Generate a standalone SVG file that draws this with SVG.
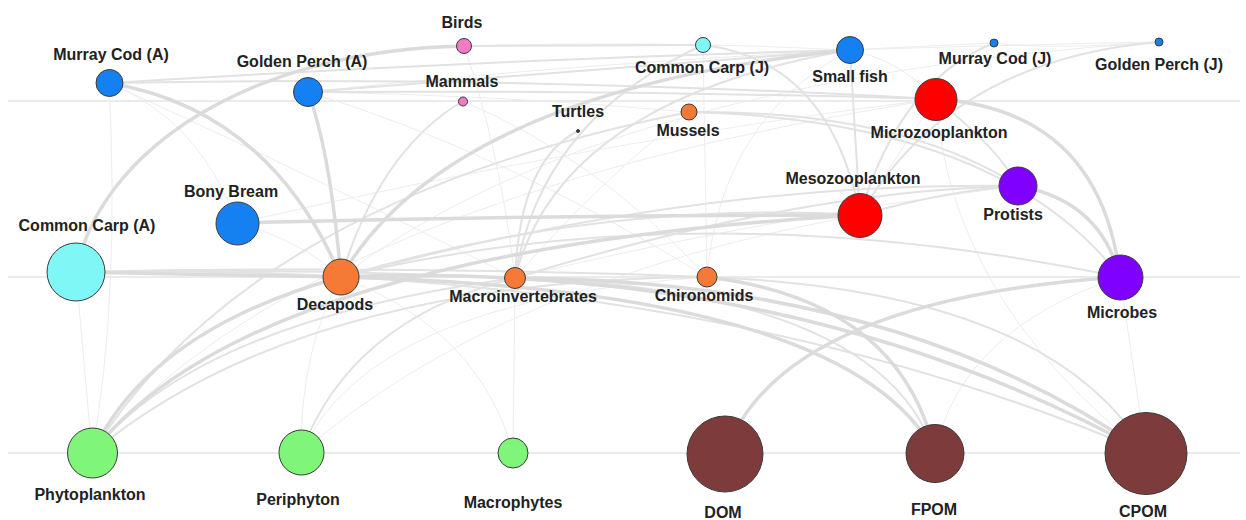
<svg xmlns="http://www.w3.org/2000/svg" width="1246" height="520" viewBox="0 0 1246 520">
<style>
.guide{stroke:#ebebeb;stroke-width:2;fill:none}
.edges path{fill:none;stroke-linecap:round}
.e1{stroke:#ededed;stroke-width:1}
.e2{stroke:#e2e2e2;stroke-width:2}
.e3{stroke:#dbdbdb;stroke-width:3.5}
.n{stroke:#3a3a3a;stroke-width:1}
.blue{fill:#1580f2}.cyan{fill:#80f7f7}.pink{fill:#f27bc4}.orange{fill:#f47a36}
.red{fill:#ff0000}.purple{fill:#7f00ff}.green{fill:#7ff57a}.brown{fill:#7d3b3b}.dark{fill:#333333}
text{font-family:"Liberation Sans",Arial,sans-serif;font-weight:bold;font-size:16px;fill:#222;text-anchor:middle}
</style>
<rect width="1246" height="520" fill="#ffffff"/>
<g id="guides">
<line class="guide" x1="8" y1="101" x2="1240" y2="101"/>
<line class="guide" x1="8" y1="277" x2="1240" y2="277"/>
<line class="guide" x1="8" y1="453" x2="1240" y2="453"/>
</g>
<g id="connectors" class="edges">
<path class="e1" d="M109,83 Q200,120 237,223"/>
<path class="e1" d="M308,92 Q500,95 689,112"/>
<path class="e1" d="M237,223 Q600,140 936,99"/>
<path class="e1" d="M237,223 Q300,240 341,277"/>
<path class="e1" d="M850,50 Q900,60 936,99"/>
<path class="e1" d="M850,50 Q720,120 707,277"/>
<path class="e1" d="M703,45 L707,277"/>
<path class="e1" d="M464,46 Q500,150 515,278"/>
<path class="e1" d="M464,46 Q650,40 850,50"/>
<path class="e1" d="M1159,42 Q1000,45 850,50"/>
<path class="e1" d="M1159,42 Q1050,50 994,43"/>
<path class="e1" d="M1159,42 Q600,80 341,277"/>
<path class="e1" d="M994,43 Q600,60 308,92"/>
<path class="e1" d="M76,272 L92,453"/>
<path class="e1" d="M936,99 Q300,200 92,453"/>
<path class="e1" d="M707,277 Q370,300 301,453"/>
<path class="e1" d="M515,278 L513,453"/>
<path class="e1" d="M341,277 Q480,330 513,453"/>
<path class="e1" d="M341,277 Q300,350 301,453"/>
<path class="e1" d="M1120,277 Q960,330 935,453"/>
<path class="e1" d="M1120,277 L1146,453"/>
<path class="e1" d="M860,215 Q900,150 936,99"/>
<path class="e1" d="M689,112 Q600,180 515,278"/>
<path class="e1" d="M1018,186 Q750,220 515,278"/>
<path class="e1" d="M109,83 Q300,170 515,278"/>
<path class="e1" d="M308,92 Q500,150 707,277"/>
<path class="e1" d="M463,101 Q600,160 707,277"/>
<path class="e1" d="M109,83 Q120,300 92,453"/>
<path class="e1" d="M860,215 Q500,280 301,453"/>
<path class="e1" d="M936,99 Q950,300 1146,453"/>
<path class="e2" d="M109,83 Q480,60 850,50"/>
<path class="e2" d="M308,92 Q580,70 850,50"/>
<path class="e2" d="M109,83 Q500,75 936,99"/>
<path class="e2" d="M308,92 Q620,90 936,99"/>
<path class="e2" d="M463,101 Q380,150 341,277"/>
<path class="e2" d="M850,50 L860,215"/>
<path class="e2" d="M703,45 Q830,60 860,215"/>
<path class="e2" d="M994,43 Q900,80 860,215"/>
<path class="e2" d="M1159,42 Q950,60 860,215"/>
<path class="e2" d="M578,131 Q520,160 515,278"/>
<path class="e2" d="M689,112 Q900,110 1018,186"/>
<path class="e2" d="M689,112 Q1000,120 1120,277"/>
<path class="e2" d="M689,112 Q250,200 92,453"/>
<path class="e2" d="M341,277 Q600,200 860,215"/>
<path class="e2" d="M341,277 Q700,180 1018,186"/>
<path class="e2" d="M341,277 Q700,190 1120,277"/>
<path class="e2" d="M515,278 Q800,190 1018,186"/>
<path class="e2" d="M860,215 Q950,190 1018,186"/>
<path class="e2" d="M515,278 Q350,320 301,453"/>
<path class="e2" d="M515,278 Q200,320 92,453"/>
<path class="e2" d="M707,277 Q300,280 92,453"/>
<path class="e2" d="M515,278 Q880,290 935,453"/>
<path class="e2" d="M707,277 Q1050,290 1146,453"/>
<path class="e2" d="M76,272 Q700,260 1146,453"/>
<path class="e2" d="M850,50 Q560,100 515,278"/>
<path class="e2" d="M703,45 Q540,120 515,278"/>
<path class="e2" d="M76,272 Q400,265 707,277"/>
<path class="e2" d="M76,272 Q300,268 515,278"/>
<path class="e2" d="M464,46 Q580,45 703,45"/>
<path class="e2" d="M936,99 Q1000,150 1018,186"/>
<path class="e3" d="M109,83 Q270,110 341,277"/>
<path class="e3" d="M308,92 Q330,150 341,277"/>
<path class="e3" d="M850,50 Q450,90 341,277"/>
<path class="e3" d="M76,272 L341,277"/>
<path class="e3" d="M237,223 Q550,215 860,215"/>
<path class="e3" d="M76,272 C100,150 250,50 464,46"/>
<path class="e3" d="M936,99 Q1100,110 1120,277"/>
<path class="e3" d="M1018,186 Q1100,200 1120,277"/>
<path class="e3" d="M725,454 Q780,300 1120,277"/>
<path class="e3" d="M341,277 Q800,260 1146,453"/>
<path class="e3" d="M515,278 Q900,280 1146,453"/>
<path class="e3" d="M707,277 Q900,300 935,453"/>
<path class="e3" d="M341,277 Q850,290 935,453"/>
<path class="e3" d="M341,277 Q150,330 92,453"/>
<path class="e3" d="M860,215 Q250,250 92,453"/>
</g>
<g id="node-murray-cod-a"><circle class="n blue" cx="109.5" cy="83" r="13.5"/><text x="111" y="60">Murray Cod (A)</text></g>
<g id="node-golden-perch-a"><circle class="n blue" cx="308" cy="92" r="14.5"/><text x="302" y="67">Golden Perch (A)</text></g>
<g id="node-birds"><circle class="n pink" cx="464" cy="46" r="7.5"/><text x="462" y="28">Birds</text></g>
<g id="node-mammals"><circle class="n pink" cx="463" cy="101.5" r="4.5"/><text x="462" y="87">Mammals</text></g>
<g id="node-turtles"><circle class="n dark" cx="578" cy="131" r="1.5"/><text x="578" y="117">Turtles</text></g>
<g id="node-common-carp-j"><circle class="n cyan" cx="703" cy="45" r="7.5"/><text x="702" y="73">Common Carp (J)</text></g>
<g id="node-mussels"><circle class="n orange" cx="689" cy="112" r="8"/><text x="688" y="136">Mussels</text></g>
<g id="node-small-fish"><circle class="n blue" cx="850" cy="50" r="13.5"/><text x="850" y="82">Small fish</text></g>
<g id="node-murray-cod-j"><circle class="n blue" cx="994" cy="43" r="4"/><text x="995" y="64">Murray Cod (J)</text></g>
<g id="node-golden-perch-j"><circle class="n blue" cx="1159" cy="42" r="4"/><text x="1159" y="70">Golden Perch (J)</text></g>
<g id="node-microzooplankton"><circle class="n red" cx="936" cy="99.5" r="21"/><text x="939" y="138">Microzooplankton</text></g>
<g id="node-mesozooplankton"><circle class="n red" cx="860" cy="215.5" r="22"/><text x="853" y="184">Mesozooplankton</text></g>
<g id="node-protists"><circle class="n purple" cx="1018" cy="186" r="19"/><text x="1013" y="220">Protists</text></g>
<g id="node-common-carp-a"><circle class="n cyan" cx="76" cy="272" r="29"/><text x="87" y="231">Common Carp (A)</text></g>
<g id="node-bony-bream"><circle class="n blue" cx="237.5" cy="223.5" r="21.5"/><text x="231" y="197">Bony Bream</text></g>
<g id="node-decapods"><circle class="n orange" cx="341" cy="277" r="18"/><text x="335" y="310">Decapods</text></g>
<g id="node-macroinvertebrates"><circle class="n orange" cx="515" cy="278" r="10.5"/><text x="523" y="302">Macroinvertebrates</text></g>
<g id="node-chironomids"><circle class="n orange" cx="707" cy="277" r="10"/><text x="704" y="301">Chironomids</text></g>
<g id="node-microbes"><circle class="n purple" cx="1120.5" cy="277.5" r="22.5"/><text x="1122" y="318">Microbes</text></g>
<g id="node-phytoplankton"><circle class="n green" cx="92.5" cy="453" r="25"/><text x="90" y="500">Phytoplankton</text></g>
<g id="node-periphyton"><circle class="n green" cx="301.5" cy="452.5" r="22.5"/><text x="298" y="505">Periphyton</text></g>
<g id="node-macrophytes"><circle class="n green" cx="513" cy="453" r="15"/><text x="513" y="508">Macrophytes</text></g>
<g id="node-dom"><circle class="n brown" cx="725" cy="454" r="38"/><text x="723" y="518">DOM</text></g>
<g id="node-fpom"><circle class="n brown" cx="935" cy="453.5" r="29"/><text x="934" y="515">FPOM</text></g>
<g id="node-cpom"><circle class="n brown" cx="1146" cy="453.5" r="41"/><text x="1143" y="517">CPOM</text></g>
</svg>
